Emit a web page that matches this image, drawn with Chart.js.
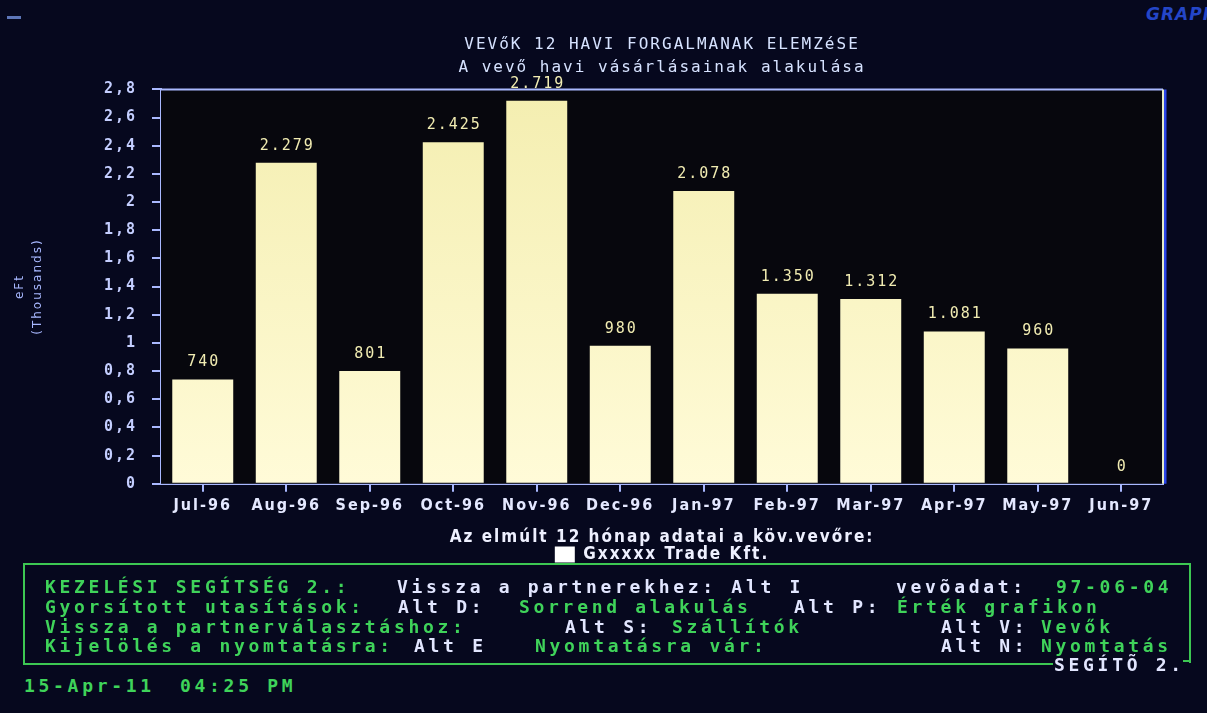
<!DOCTYPE html>
<html>
<head>
<meta charset="utf-8">
<script src="https://cdn.jsdelivr.net/npm/chart.js@4.4.1/dist/chart.umd.min.js"></script>
<style>
  html, body { margin: 0; padding: 0; background: #06081e; }
  #screen { position: relative; width: 1207px; height: 713px; overflow: hidden; background: #06081e; }
  #chartBox { position: absolute; left: 0; top: 0; width: 1207px; height: 575px; }
  #panel { position: absolute; left: 23px; top: 563px; width: 1164px; height: 98px;
           border: 2px solid #3cc752; border-bottom: none; }
  .rule { position: absolute; height: 2px; background: #3cc752; }
  .t { position: absolute; white-space: pre; font-family: "DejaVu Sans Mono", monospace; font-weight: bold;
       font-size: 18px; line-height: 20px; letter-spacing: 3.7px; }
  .g { color: #3fd35a; }
  .w { color: #e2e6ff; }
  #graphTag { position: absolute; left: 1146px; top: 4px; font-family: "DejaVu Sans", sans-serif; font-weight: bold;
              font-style: italic; font-size: 17px; color: #2446c8; letter-spacing: 1px; }
  #dash { position: absolute; left: 7px; top: 16px; width: 14px; height: 3px; background: #5d76b8; }
</style>
</head>
<body>
<div id="screen">
  <div id="dash"></div>
  <div id="graphTag">GRAPH</div>
  <div id="chartBox"><canvas id="c"></canvas></div>
  <div id="panel"></div>
  <div class="rule" style="left:23px; top:663px; width:1030px;"></div>
  <div class="rule" style="left:1183px; top:660px; width:8px;"></div>
</div>
<script>
// Monthly purchases of the customer (eFt), Jul-96 .. Jun-97
const months = ['Jul-96', 'Aug-96', 'Sep-96', 'Oct-96', 'Nov-96', 'Dec-96',
                'Jan-97', 'Feb-97', 'Mar-97', 'Apr-97', 'May-97', 'Jun-97'];
const purchases = [740, 2279, 801, 2425, 2719, 980, 2078, 1350, 1312, 1081, 960, 0];
const yMax = 2800;
const yStep = 200;
const seriesName = 'Gxxxxx Trade Kft.';
const titleLines = ['VEVőK 12 HAVI FORGALMANAK ELEMZéSE', 'A vevő havi vásárlásainak alakulása'];
const axisTitle = ['eFt', '(Thousands)'];
const legendTitle = 'Az elmúlt 12 hónap adatai a köv.vevőre:';

// Help panel rows: [text, x, y, colour class]
const helpRows = [
  ['KEZELÉSI SEGÍTSÉG 2.:', 45, 587, 'g'],
  ['Vissza a partnerekhez: Alt I', 397, 587, 'w'],
  ['vevõadat:', 896, 587, 'w'],
  ['97-06-04', 1056, 587, 'g'],
  ['Gyorsított utasítások:', 45, 607, 'g'],
  ['Alt D:', 398, 607, 'w'],
  ['Sorrend alakulás', 519, 607, 'g'],
  ['Alt P:', 794, 607, 'w'],
  ['Érték grafikon', 897, 607, 'g'],
  ['Vissza a partnerválasztáshoz:', 45, 627, 'g'],
  ['Alt S:', 565, 627, 'w'],
  ['Szállítók', 672, 627, 'g'],
  ['Alt V:', 941, 627, 'w'],
  ['Vevők', 1041, 627, 'g'],
  ['Kijelölés a nyomtatásra:', 45, 646, 'g'],
  ['Alt E', 414, 646, 'w'],
  ['Nyomtatásra vár:', 535, 646, 'g'],
  ['Alt N:', 941, 646, 'w'],
  ['Nyomtatás', 1041, 646, 'g'],
  ['SEGÍTÕ 2.', 1054, 665, 'w'],
  ['15-Apr-11', 24, 686, 'g'],
  ['04:25 PM', 180, 686, 'g']
];

const screen = document.getElementById('screen');
helpRows.forEach(([text, x, y, cls]) => {
  const d = document.createElement('div');
  d.className = 't ' + cls;
  d.textContent = text;
  d.style.left = x + 'px';
  d.style.top = (y - 10) + 'px';
  screen.appendChild(d);
});

function fmtAxis(v) {
  let s = (v / 1000).toFixed(1);
  if (s.endsWith('.0')) s = s.slice(0, -2);
  return s.replace('.', ',');
}
function fmtValue(v) {
  return String(Math.round(v)).replace(/\B(?=(\d{3})+(?!\d))/g, '.');
}

// wide character spacing for all canvas text
const wideText = {
  id: 'wideText',
  beforeLayout(chart) { chart.ctx.letterSpacing = '2px'; },
  beforeDraw(chart) { chart.ctx.letterSpacing = '2px'; }
};

// dark plot background and frame around the plotting area
const plotFrame = {
  id: 'plotFrame',
  beforeDatasetsDraw(chart) {
    const { ctx, chartArea: a } = chart;
    ctx.save();
    ctx.fillStyle = '#07070d';
    ctx.fillRect(a.left, a.top, a.right - a.left, a.bottom - a.top);
    ctx.restore();
  },
  afterDraw(chart) {
    const { ctx, chartArea: a } = chart;
    ctx.save();
    ctx.lineWidth = 2;
    ctx.strokeStyle = '#a9b8ff';
    ctx.beginPath();
    ctx.moveTo(a.left, a.top);
    ctx.lineTo(a.right, a.top);
    ctx.stroke();
    ctx.strokeStyle = '#2a46e8';
    ctx.lineWidth = 3;
    ctx.beginPath();
    ctx.moveTo(a.right + 2, a.top);
    ctx.lineTo(a.right + 2, a.bottom);
    ctx.stroke();
    ctx.strokeStyle = '#e6ecc8';
    ctx.lineWidth = 2;
    ctx.beginPath();
    ctx.moveTo(a.right, a.top);
    ctx.lineTo(a.right, a.bottom);
    ctx.stroke();
    ctx.restore();
  }
};

// value labels above each bar
const barValues = {
  id: 'barValues',
  afterDatasetsDraw(chart) {
    const { ctx } = chart;
    const meta = chart.getDatasetMeta(0);
    ctx.save();
    ctx.font = '15px "DejaVu Sans Mono", monospace';
    ctx.fillStyle = '#f1ecb2';
    ctx.textAlign = 'center';
    ctx.textBaseline = 'middle';
    meta.data.forEach((bar, i) => {
      ctx.fillText(fmtValue(purchases[i]), bar.x + 1, bar.y - 17);
    });
    ctx.restore();
  }
};

new Chart(document.getElementById('c'), {
  type: 'bar',
  data: {
    labels: months,
    datasets: [{
      label: seriesName,
      data: purchases,
      backgroundColor(ctx) {
        const a = ctx.chart.chartArea;
        if (!a) return '#f8f3bc';
        const g = ctx.chart.ctx.createLinearGradient(0, a.top, 0, a.bottom);
        g.addColorStop(0, '#f4eeb0');
        g.addColorStop(1, '#fffbd8');
        return g;
      },
      borderWidth: 0,
      barPercentage: 0.73,
      categoryPercentage: 1
    }]
  },
  options: {
    responsive: true,
    maintainAspectRatio: false,
    animation: false,
    layout: { padding: { top: 35, right: 44, left: 8, bottom: 2 } },
    plugins: {
      title: {
        display: true, text: titleLines[0], color: '#d6e2ff', fullSize: false,
        font: { family: '"DejaVu Sans Mono", monospace', size: 16, weight: 'normal' },
        padding: { top: 0, bottom: 4 }
      },
      subtitle: {
        display: true, text: titleLines[1], color: '#d6e2ff', fullSize: false,
        font: { family: '"DejaVu Sans Mono", monospace', size: 16, weight: 'normal' },
        padding: { top: 0, bottom: 12 }
      },
      legend: {
        position: 'bottom', fullSize: false,
        title: {
          display: true, text: legendTitle, color: '#eef0ff',
          font: { family: '"DejaVu Sans Condensed", sans-serif', size: 17, weight: 'bold', lineHeight: 1 },
          padding: { top: 10, bottom: 0 }
        },
        labels: {
          color: '#eef0ff', boxWidth: 20, boxHeight: 16, padding: 0,
          font: { family: '"DejaVu Sans Condensed", sans-serif', size: 17, weight: 'bold' },
          generateLabels() {
            return [{ text: seriesName, fillStyle: '#ffffff', strokeStyle: '#ffffff', lineWidth: 0,
                      fontColor: '#eef0ff', datasetIndex: 0 }];
          }
        }
      },
      tooltip: { enabled: false }
    },
    scales: {
      x: {
        offset: true,
        grid: { drawOnChartArea: false, offset: false, tickLength: 8, color: '#a9b8ff', lineWidth: 2 },
        border: { color: '#a9b8ff', width: 2 },
        ticks: {
          color: '#e4e8ff', padding: 4, maxRotation: 0, autoSkip: false,
          font: { family: '"DejaVu Sans Condensed", sans-serif', size: 16, weight: 'bold' }
        }
      },
      y: {
        min: 0, max: yMax,
        afterFit(scale) { scale.width = 153; },
        grid: { drawOnChartArea: false, tickLength: 9, color: '#a9b8ff', lineWidth: 2 },
        border: { color: '#a9b8ff', width: 2 },
        ticks: {
          stepSize: yStep, color: '#c4ceff', padding: 15,
          font: { family: '"DejaVu Sans Mono", monospace', size: 15, weight: 'bold' },
          callback: (v) => fmtAxis(v)
        },
        title: {
          display: true, text: axisTitle, color: '#a8b8ff', padding: { top: 3, bottom: 0 },
          font: { family: '"DejaVu Sans", sans-serif', size: 12, lineHeight: 1.5 }
        }
      }
    }
  },
  plugins: [wideText, plotFrame, barValues]
});
</script>
</body>
</html>
